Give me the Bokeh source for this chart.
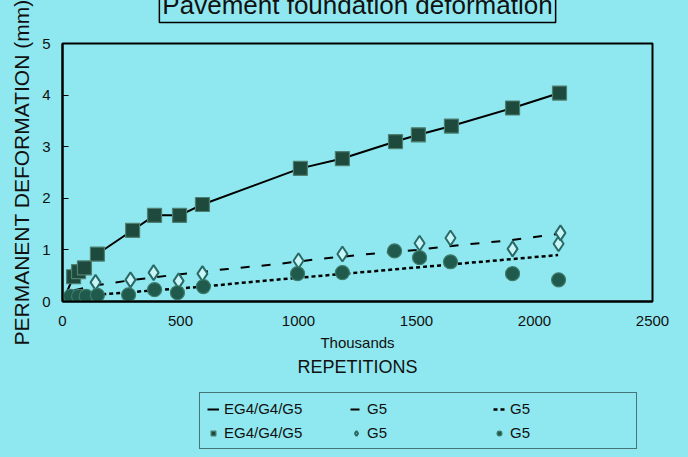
from bokeh.plotting import figure
from bokeh.layouts import column
from bokeh.models import Range1d, Legend, LegendItem, FixedTicker, Title
from bokeh.embed import file_html
from bokeh.resources import INLINE

# ---- data (thousands of repetitions, mm) ----
eg_x = [0, 47, 68, 93, 148, 297, 390, 496, 593, 1008, 1186, 1411, 1508, 1648, 1907, 2106]
eg_y = [0, 0.48, 0.58, 0.65, 0.92, 1.38, 1.67, 1.67, 1.88, 2.58, 2.77, 3.10, 3.23, 3.40, 3.75, 4.04]

dia_x = [140, 288, 386, 492, 593, 1000, 1186, 1513, 1644, 1907, 2102, 2110]
dia_y = [0.37, 0.42, 0.56, 0.40, 0.54, 0.79, 0.92, 1.13, 1.23, 1.02, 1.12, 1.33]

cir_x = [34, 68, 100, 148, 280, 390, 487, 597, 996, 1186, 1407, 1513, 1644, 1907, 2102]
cir_y = [0.10, 0.10, 0.10, 0.12, 0.13, 0.23, 0.17, 0.29, 0.54, 0.56, 0.98, 0.85, 0.77, 0.54, 0.42]

dash_x = [50, 150, 300, 500, 700, 900, 1100, 1300, 1500, 1700, 1900, 2100]
dash_y = [0.22, 0.32, 0.42, 0.53, 0.63, 0.72, 0.83, 0.92, 1.00, 1.10, 1.19, 1.31]

dot_x = [50, 200, 400, 600, 800, 1000, 1200, 1400, 1600, 1800, 2000, 2100]
dot_y = [0.10, 0.15, 0.22, 0.29, 0.38, 0.46, 0.54, 0.62, 0.70, 0.78, 0.86, 0.90]

x_ticks = [0, 500, 1000, 1500, 2000, 2500]
y_ticks = [0, 1, 2, 3, 4, 5]

title_text = "Pavement foundation deformation"
y_label = "PERMANENT DEFORMATION (mm)"
x_label = "Thousands"
x_label2 = "REPETITIONS"
legend_labels = ["EG4/G4/G5", "G5", "G5", "EG4/G4/G5", "G5", "G5"]

BG = "#8fe8ef"
FONT = "Liberation Sans"
INK = "#111111"
CUT = 18          # part of the page hidden above the window
H2 = 77           # legend strip height
H1 = 457 + CUT - H2

SQ = dict(marker="square", size=14, fill_color="#1e4a3e", line_color="#4f7f70", line_width=1.2)
DI = dict(marker="diamond", size=15, fill_color="#c8f6f8", line_color="#2a6a66", line_width=2)
CI = dict(marker="circle", size=14, fill_color="#1f5a4c", line_color="#3d7b6a", line_width=1.2)
L1 = dict(line_color="black", line_width=2)
L2 = dict(line_color="black", line_width=2, line_dash="9 12")
L3 = dict(line_color="black", line_width=2.5, line_dash="4 3")

# ---------------- main chart ----------------
p = figure(width=688, height=H1, output_backend="svg", toolbar_location=None,
           x_range=Range1d(0, 2500), y_range=Range1d(0, 5))
p.min_border_left = 62
p.min_border_right = 36
p.min_border_top = 42 + CUT
p.min_border_bottom = H1 - (301 + CUT)
p.background_fill_color = BG
p.border_fill_color = BG
p.outline_line_color = "black"
p.outline_line_width = 2
p.grid.visible = False

xa = p.xaxis[0]
xa.ticker = FixedTicker(ticks=x_ticks)
xa.major_tick_in = 0
xa.major_tick_out = 0
xa.minor_tick_in = 0
xa.minor_tick_out = 0
xa.axis_line_width = 2
xa.major_label_standoff = 14
xa.major_label_text_font = FONT
xa.major_label_text_font_size = "15px"
xa.major_label_text_color = INK
xa.axis_label = x_label
xa.axis_label_text_font = FONT
xa.axis_label_text_font_size = "15px"
xa.axis_label_text_font_style = "normal"
xa.axis_label_text_color = INK
xa.axis_label_standoff = 5

ya = p.yaxis[0]
ya.ticker = FixedTicker(ticks=y_ticks)
ya.major_tick_in = 6
ya.major_tick_out = 0
ya.minor_tick_in = 0
ya.minor_tick_out = 0
ya.axis_line_width = 2
ya.major_label_standoff = 12
ya.major_label_text_font = FONT
ya.major_label_text_font_size = "15px"
ya.major_label_text_color = INK
ya.axis_label = y_label
ya.axis_label_text_font = FONT
ya.axis_label_text_font_size = "21px"
ya.axis_label_text_font_style = "normal"
ya.axis_label_text_color = INK
ya.axis_label_standoff = 6

p.line(eg_x, eg_y, **L1)
p.line(dash_x, dash_y, **L2)
p.line(dot_x, dot_y, **L3)
p.scatter(eg_x, eg_y, **SQ)
p.scatter(dia_x, dia_y, **DI)
p.scatter(cir_x, cir_y, **CI)

p.add_layout(Title(text=x_label2, align="center", text_font=FONT,
                   text_font_size="18px", text_font_style="normal",
                   text_color=INK, standoff=2), "below")

# empty spacer between the plot box and the boxed heading
p.add_layout(Title(text=" ", text_font_size="15px", standoff=0), "above")
p.add_layout(Title(text=title_text, align="center",
                   text_font=FONT, text_font_size="26px", text_font_style="normal",
                   text_color=INK, border_line_color="black",
                   border_line_width=1.5, background_fill_color=BG,
                   padding=3, standoff=4), "above")

# ---------------- legend strip ----------------
q = figure(width=688, height=H2, output_backend="svg", toolbar_location=None,
           x_range=Range1d(-3000, -2000), y_range=Range1d(-3, -2),
           x_axis_location=None, y_axis_location=None)
q.min_border_left = q.min_border_right = q.min_border_top = q.min_border_bottom = 0
q.background_fill_color = BG
q.border_fill_color = BG
q.outline_line_color = BG
q.outline_line_width = 3
q.grid.visible = False

r1 = q.line(eg_x, eg_y, **L1)
r2 = q.line(dash_x, dash_y, **L2)
r3 = q.line(dot_x, dot_y, **L3)
r4 = q.scatter(eg_x, eg_y, **SQ)
r5 = q.scatter(dia_x, dia_y, **DI)
r6 = q.scatter(cir_x, cir_y, **CI)

legend = Legend(items=[LegendItem(label=t, renderers=[r]) for t, r in
                       zip(legend_labels, [r1, r2, r3, r4, r5, r6])],
                location=(137, 8), orientation="horizontal", ncols=3)
legend.label_text_font = FONT
legend.label_text_font_size = "15px"
legend.label_text_color = INK
legend.glyph_width = 12
legend.glyph_height = 16
legend.label_height = 16
legend.label_standoff = 5
legend.label_width = 119
legend.spacing = 7
legend.padding = 7
legend.margin = 0
legend.border_line_color = "black"
legend.border_line_width = 1.5
legend.background_fill_color = BG
legend.background_fill_alpha = 1
q.add_layout(legend, "center")

page = column(p, q, spacing=0,
              styles={"margin-top": f"-{CUT}px", "background-color": BG})
open("out.html", "w").write(file_html(page, INLINE))
